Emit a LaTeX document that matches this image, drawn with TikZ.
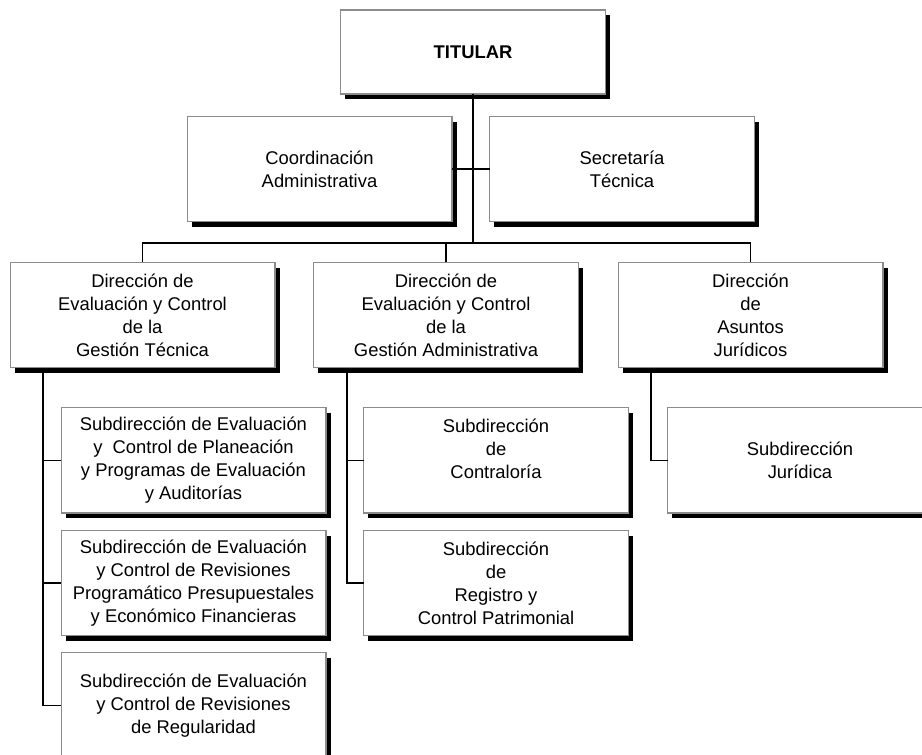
\documentclass[tikz,border=0pt]{standalone}
\usepackage{fontspec}
\setmainfont{Liberation Sans}
\usetikzlibrary{shadows}

\begin{document}
\begin{tikzpicture}[x=0.75pt,y=0.75pt,yscale=-1,
    caja/.style={rectangle, draw={rgb,255:red,140;green,140;blue,140}, line width=1pt, fill=white,
        inner sep=0pt, outer sep=0pt, align=center, minimum width=198.5pt, minimum height=79pt,
        font=\fontsize{13.8}{17.25}\selectfont,
        drop shadow={shadow xshift=3.5pt, shadow yshift=-4pt, opacity=1, fill=black}},
    enlace/.style={draw=black, line width=1.3pt}]
    \useasboundingbox (0,0) rectangle (922,755);

    % titular y staff
    \node[caja, minimum height=63pt] (titular) at (473,52) {\bfseries TITULAR};
    \node[caja] (coord) at (319.5,169) {Coordinación\\Administrativa};
    \node[caja] (secre) at (622,169) {Secretaría\\Técnica};

    % direcciones
    \node[caja] (dirtec) at (142.5,315) {Dirección de\\Evaluación y Control\\de la\\Gestión Técnica};
    \node[caja] (diradm) at (446,315) {Dirección de\\Evaluación y Control\\de la\\Gestión Administrativa};
    \node[caja] (dirjur) at (750.5,315) {Dirección\\de\\Asuntos\\Jurídicos};

    % subdirecciones
    \node[caja] (subtec1) at (193.5,460.5) {Subdirección de Evaluación\\y\ \ Control de Planeación\\y Programas de Evaluación\\y Auditorías};
    \node[caja] (subtec2) at (193.5,583) {Subdirección de Evaluación\\y Control de Revisiones\\Programático Presupuestales\\y Económico Financieras};
    \node[caja] (subtec3) at (193.5,705.5) {Subdirección de Evaluación\\y Control de Revisiones\\de Regularidad};
    \node[caja] (subadm1) at (496,460.5) {Subdirección\\de\\Contraloría\\~};
    \node[caja] (subadm2) at (496,583) {Subdirección\\de\\Registro y\\Control Patrimonial};
    \node[caja] (subjur) at (800,460.5) {Subdirección\\Jurídica};

    % lineas
    \coordinate (bus) at (473,243);
    \coordinate (trtec) at (43,368);
    \coordinate (tradm) at (347,368);
    \coordinate (trjur) at (651,368);

    \draw[enlace] (titular.south) -- (bus);
    \draw[enlace] (coord.east) -- (secre.west);
    \draw[enlace] (dirtec.north) |- (bus) -| (dirjur.north);
    \draw[enlace] (diradm.north) -- (diradm.north |- bus);

    \draw[enlace] (trtec) |- (subtec3.west);
    \draw[enlace] (trtec |- subtec1.west) -- (subtec1.west);
    \draw[enlace] (trtec |- subtec2.west) -- (subtec2.west);
    \draw[enlace] (tradm) |- (subadm2.west);
    \draw[enlace] (tradm |- subadm1.west) -- (subadm1.west);
    \draw[enlace] (trjur) |- (subjur.west);
\end{tikzpicture}
\end{document}
